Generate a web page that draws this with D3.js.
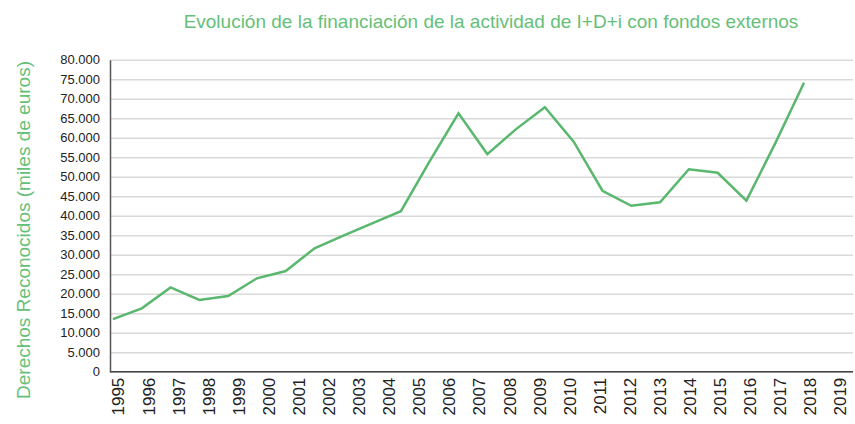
<!DOCTYPE html>
<html>
<head>
<meta charset="utf-8">
<script src="https://cdn.jsdelivr.net/npm/d3@7"></script>
<style>
  body { margin: 0; background: #fff; }
  svg { display: block; font-family: "Liberation Sans", Arial, sans-serif; }
</style>
</head>
<body>
<svg width="855" height="424"></svg>
<script>
const years = ['1995','1996','1997','1998','1999','2000','2001','2002','2003','2004','2005','2006',
  '2007','2008','2009','2010','2011','2012','2013','2014','2015','2016','2017','2018','2019'];
const values = [13500, 16250, 21600, 18400, 19400, 23950, 25800, 31650, 34900, 38050, 41150, 54000,
  66250, 55800, 62200, 67800, 59000, 46400, 42550, 43450, 51900, 51000, 43850, 58550, 74100];
const yTicks = d3.range(0, 80001, 5000);

const green = '#5ab76e';
const svg = d3.select('svg');

const plotLeft = 110, plotRight = 853, plotTop = 59.7, plotBottom = 371.7;

const yScale = d3.scaleLinear().domain([0, 80000]).range([plotBottom, plotTop]);
// labels and line points are not on the same spacing in the original
const xLabel = d3.scalePoint().domain(years).range([118, 840]);
const xLine = d3.scalePoint().domain(years).range([113, 804]);

const fmt = d => d3.format(',')(d).replace(/,/g, '.');

// grid
svg.append('g')
  .attr('transform', `translate(${plotLeft},0)`)
  .call(d3.axisLeft(yScale).tickValues(yTicks).tickSize(-(plotRight - plotLeft)).tickFormat(''))
  .call(g => g.select('.domain').remove())
  .call(g => g.selectAll('line').attr('stroke', '#d9d9d9').attr('stroke-width', 1.5));

// y tick labels
svg.append('g')
  .attr('transform', `translate(${plotLeft},0)`)
  .call(d3.axisLeft(yScale).tickValues(yTicks).tickSize(0).tickPadding(10).tickFormat(fmt))
  .call(g => g.select('.domain').attr('stroke', '#555').attr('stroke-width', 1.5))
  .call(g => g.selectAll('text').attr('font-size', 13).attr('fill', '#222')
    .attr('font-family', '"Liberation Sans", Arial, sans-serif'));

// x axis
svg.append('g')
  .attr('transform', `translate(0,${plotBottom})`)
  .call(d3.axisBottom(xLabel).tickSize(0).tickPadding(0))
  .call(g => g.select('.domain').attr('d', `M${plotLeft},0H${plotRight}`).attr('stroke', '#444').attr('stroke-width', 1.5))
  .call(g => g.selectAll('text')
    .attr('font-size', 17).attr('fill', '#222')
    .attr('font-family', '"Liberation Sans", Arial, sans-serif')
    .attr('text-anchor', 'end')
    .attr('dy', '0.35em')
    .attr('transform', 'translate(0,6) rotate(-90)')
    .attr('x', 0).attr('y', 0));

// line
const line = d3.line()
  .x((d, i) => xLine(years[i]))
  .y(d => yScale(d));

svg.append('path')
  .datum(values)
  .attr('fill', 'none')
  .attr('stroke', green)
  .attr('stroke-width', 2.5)
  .attr('stroke-linejoin', 'miter')
  .attr('d', line);

// title
svg.append('text')
  .attr('x', 491)
  .attr('y', 28)
  .attr('text-anchor', 'middle')
  .attr('font-size', 19)
  .attr('fill', '#66bf78')
  .text('Evolución de la financiación de la actividad de I+D+i con fondos externos');

// y label
svg.append('text')
  .attr('transform', 'translate(30,230) rotate(-90)')
  .attr('text-anchor', 'middle')
  .attr('font-size', 19)
  .attr('fill', '#66bf78')
  .text('Derechos Reconocidos (miles de euros)');
</script>
</body>
</html>
